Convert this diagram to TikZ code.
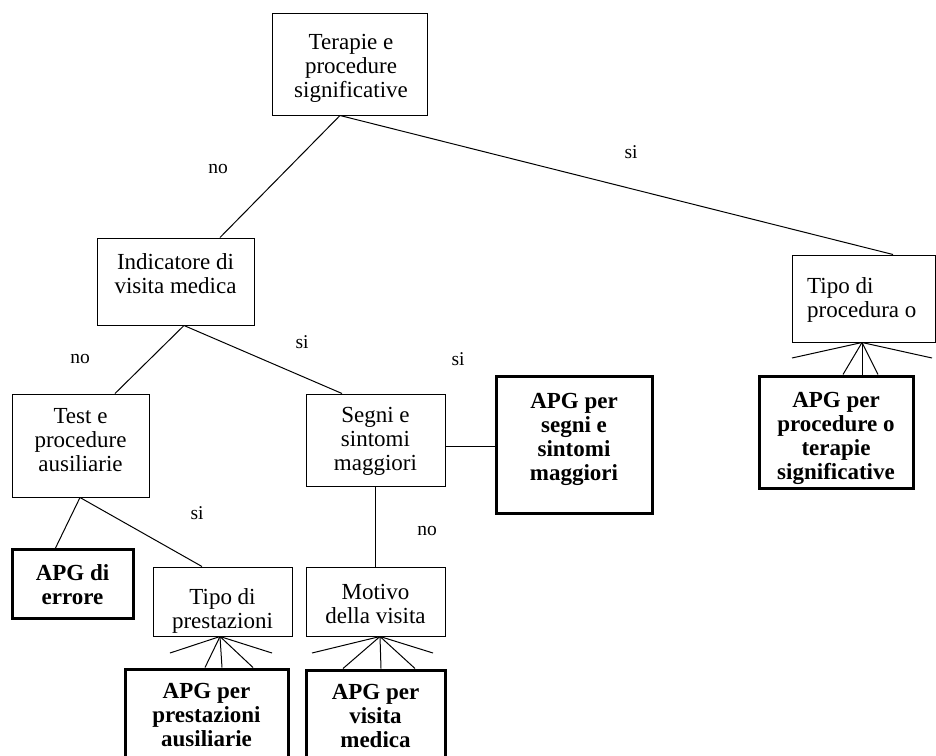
\documentclass[tikz,border=0pt]{standalone}
\usepackage{fontspec}
\setmainfont{Liberation Serif}
\usetikzlibrary{calc}
\begin{document}
\begin{tikzpicture}[x=1pt,y=-1pt,
  box/.style={draw, line width=1pt, inner sep=0pt},
  bbox/.style={draw, line width=3pt, inner sep=0pt},
  txt/.style={inner sep=0pt, align=center, font=\fontsize{23}{24}\selectfont},
  btxt/.style={txt, font=\fontsize{23}{24}\selectfont\bfseries},
  lbl/.style={inner sep=0pt, font=\fontsize{19.5}{22}\selectfont},
  conn/.style={line width=1pt}]
\clip (0,0) rectangle (936,755);
\fill[white] (0,0) rectangle (936,755);

% plain boxes
\node[box, minimum width=155pt, minimum height=102pt] (T) at (349.5,64) {};
\node[box, minimum width=157pt, minimum height=87pt] (I) at (175.5,281.5) {};
\node[box, minimum width=143pt, minimum height=87pt] (TP) at (863.5,298.5) {};
\node[box, minimum width=137pt, minimum height=103pt] (Test) at (80.5,445.5) {};
\node[box, minimum width=139pt, minimum height=92pt] (Segni) at (375.5,440) {};
\node[box, minimum width=139pt, minimum height=69pt] (Motivo) at (375.5,601.5) {};
\node[box, minimum width=139pt, minimum height=69pt] (Prest) at (222.5,601.5) {};

% connectors
\draw[conn] ([xshift=-9.5pt]T.south) -- ([xshift=44.5pt]I.north);
\draw[conn] ([xshift=-9.5pt]T.south) -- ([xshift=29.5pt]TP.north);
\draw[conn] ([xshift=8.5pt]I.south) -- ([xshift=34.5pt]Test.north);
\draw[conn] ([xshift=8.5pt]I.south) -- ([xshift=-33.5pt]Segni.north);
\draw[conn] ([xshift=-0.5pt]Test.south) -- ([xshift=-25.5pt]Test.south |- 0,549) coordinate (errtop);
\draw[conn] ([xshift=-0.5pt]Test.south) -- ([xshift=-20.5pt]Prest.north);
\draw[conn] (Segni.south) -- (Motivo.north);

% bold boxes
\node[bbox, minimum width=121pt, minimum height=69pt] (Err) at (72.5,583.5) {};
\node[bbox, minimum width=163pt, minimum height=121pt] (APGprest) at (206.5,729.5) {};
\node[bbox, minimum width=139pt, minimum height=120pt] (APGvis) at (375.5,730) {};
\node[bbox, minimum width=156pt, minimum height=137pt] (APGseg) at (574,444.5) {};
\node[bbox, minimum width=154pt, minimum height=112pt] (APGproc) at (836,432) {};

\draw[conn] ([yshift=-6pt]Segni.east) coordinate (s1) -- (s1 -| APGseg.west);

% fans
\coordinate (f1l) at (792,358);
\coordinate (f1r) at (932,358);
\draw[conn] ([xshift=-1.5pt]TP.south) coordinate (h1) -- (f1l);
\draw[conn] (h1) -- (f1r);
\draw[conn] (h1) -- ([xshift=7pt]APGproc.north);
\draw[conn] (h1) -- ([xshift=26pt]APGproc.north);
\draw[conn] (h1) -- ([xshift=42pt]APGproc.north);

\coordinate (f2l) at (170,653);
\coordinate (f2r) at (272,653);
\draw[conn] ([xshift=-2.5pt]Prest.south) coordinate (h2) -- (f2l);
\draw[conn] (h2) -- (f2r);
\draw[conn] (h2) -- ([xshift=-1.5pt]APGprest.north);
\draw[conn] (h2) -- ([xshift=15.5pt]APGprest.north);
\draw[conn] (h2) -- ([xshift=46.5pt]APGprest.north);

\coordinate (f3l) at (312,653);
\coordinate (f3r) at (433,653);
\draw[conn] ([xshift=4.5pt]Motivo.south) coordinate (h3) -- (f3l);
\draw[conn] (h3) -- (f3r);
\draw[conn] (h3) -- ([xshift=-32.5pt]APGvis.north);
\draw[conn] (h3) -- ([xshift=5.5pt]APGvis.north);
\draw[conn] (h3) -- ([xshift=39.5pt]APGvis.north);

% texts
\node[txt, anchor=north] (Tt) at (351,34) {Terapie e\\procedure\\significative};
\node[txt, anchor=north] (It) at (175.5,253) {Indicatore di\\visita medica};
\node[txt, align=left, anchor=north west] (TPt) at (807,277) {Tipo di\\procedura o};
\node[txt, anchor=north] (Testt) at (80.5,408) {Test e\\procedure\\ausiliarie};
\node[txt, anchor=north] (Segnit) at (375.5,407) {Segni e\\sintomi\\maggiori};
\node[txt, anchor=north] (Motivot) at (375.5,584) {Motivo\\della visita};
\node[txt, anchor=north] (Prestt) at (222.5,588) {Tipo di\\prestazioni};
\node[btxt, anchor=north] (Errt) at (72.5,564) {APG di\\errore};
\node[btxt, anchor=north] (APGprestt) at (206.5,683) {APG per\\prestazioni\\ausiliarie};
\node[btxt, anchor=north] (APGvist) at (375.5,684) {APG per\\visita\\medica};
\node[btxt, anchor=north] (APGsegt) at (574,393) {APG per\\segni e\\sintomi\\maggiori};
\node[btxt, anchor=north] (APGproct) at (836,392) {APG per\\procedure o\\terapie\\significative};

% labels
\node[lbl] (l1) at (218,169) {no};
\node[lbl] (l2) at (631,152) {si};
\node[lbl] (l3) at (80,359) {no};
\node[lbl] (l4) at (302,342) {si};
\node[lbl] (l5) at (458,359) {si};
\node[lbl] (l6) at (197,513) {si};
\node[lbl] (l7) at (427,531) {no};
\end{tikzpicture}
\end{document}
